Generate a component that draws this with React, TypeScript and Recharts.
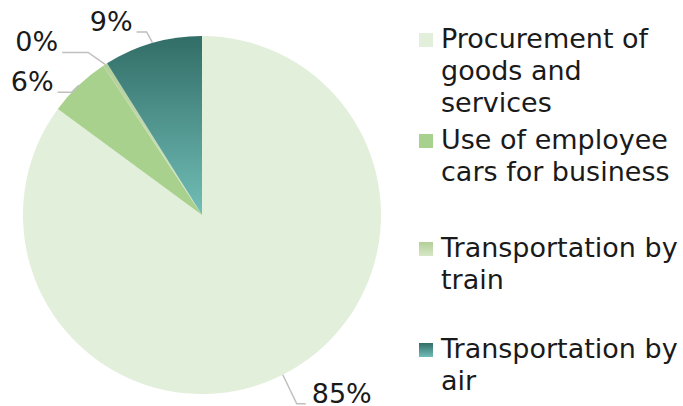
import { Cell, Legend, Pie, PieChart } from "recharts"

const categories = [
  "Procurement of goods and services",
  "Use of employee cars for business",
  "Transportation by train",
  "Transportation by air",
]
const shares = [85.1, 5.6, 0.4, 8.9]

const fills = ["#e2efda", "#a9d18e", "url(#trainFill)", "url(#airFill)"]
const swatches = [
  "#e2efda",
  "#a9d18e",
  "linear-gradient(#b3cf98, #d6e7c6)",
  "linear-gradient(#336e68, #70bdb7)",
]

// leader line elbows relative to the slice edge, and horizontal run
const labelLayout = [
  { dx: 14, dy: 29, h: 9 },
  { dx: -7, dy: 7, h: -14 },
  { dx: -17, dy: -12, h: -26 },
  { dx: -6, dy: -11, h: -10 },
]
const legendTops = [23, 124, 232, 333]

const data = categories.map((name, i) => ({ name, value: shares[i] }))

const RAD = Math.PI / 180

function renderLabel(props: any) {
  const { cx, cy, midAngle, outerRadius, percent, index } = props
  const ex = cx + outerRadius * Math.cos(-midAngle * RAD)
  const ey = cy + outerRadius * Math.sin(-midAngle * RAD)
  const l = labelLayout[index]
  const mx = ex + l.dx
  const my = ey + l.dy
  const hx = mx + l.h
  const right = l.h > 0
  return (
    <g key={`lbl-${index}`}>
      <polyline
        points={`${ex},${ey} ${mx},${my} ${hx},${my}`}
        fill="none"
        stroke="#bfbfbf"
        strokeWidth={1.5}
      />
      <text
        x={right ? hx + 6 : hx - 4}
        y={my - 1}
        textAnchor={right ? "start" : "end"}
        fontSize={27}
        fontFamily="DejaVu Sans"
        fill="#1a1a1a"
      >
        {`${Math.round(percent * 100)}%`}
      </text>
    </g>
  )
}

function renderLegend() {
  return (
    <div style={{ position: "relative", width: 683, height: 406 }}>
      {categories.map((name, i) => (
        <div
          key={name}
          style={{ position: "absolute", left: 419, top: legendTops[i], display: "flex" }}
        >
          <div
            style={{
              width: 14,
              height: 14,
              marginTop: 10,
              marginRight: 8,
              background: swatches[i],
              flex: "none",
            }}
          />
          <div
            style={{
              width: 244,
              fontFamily: "DejaVu Sans",
              fontSize: 27,
              lineHeight: "32px",
              color: "#1a1a1a",
            }}
          >
            {name}
          </div>
        </div>
      ))}
    </div>
  )
}

export default function App() {
  return (
    <div style={{ position: "absolute", left: 0, top: 0, width: 683, height: 406, background: "#fff" }}>
      <PieChart width={683} height={406} margin={{ top: 0, right: 0, bottom: 0, left: 0 }}>
        <defs>
          <linearGradient id="airFill" x1="0" y1="0" x2="0" y2="1">
            <stop offset="0%" stopColor="#326d67" />
            <stop offset="100%" stopColor="#72beb8" />
          </linearGradient>
          <linearGradient id="trainFill" x1="0" y1="0" x2="0" y2="1">
            <stop offset="0%" stopColor="#b3cf98" />
            <stop offset="100%" stopColor="#d6e7c6" />
          </linearGradient>
        </defs>
        <Pie
          data={data}
          dataKey="value"
          nameKey="name"
          cx={202}
          cy={215}
          outerRadius={179}
          startAngle={90}
          endAngle={-270}
          stroke="none"
          label={renderLabel}
          labelLine={false}
          isAnimationActive={false}
        >
          {data.map((d, i) => (
            <Cell key={d.name} fill={fills[i]} />
          ))}
        </Pie>
        <Legend
          content={renderLegend}
          wrapperStyle={{ position: "absolute", left: 0, top: 0, width: 683, height: 406 }}
        />
      </PieChart>
    </div>
  )
}
